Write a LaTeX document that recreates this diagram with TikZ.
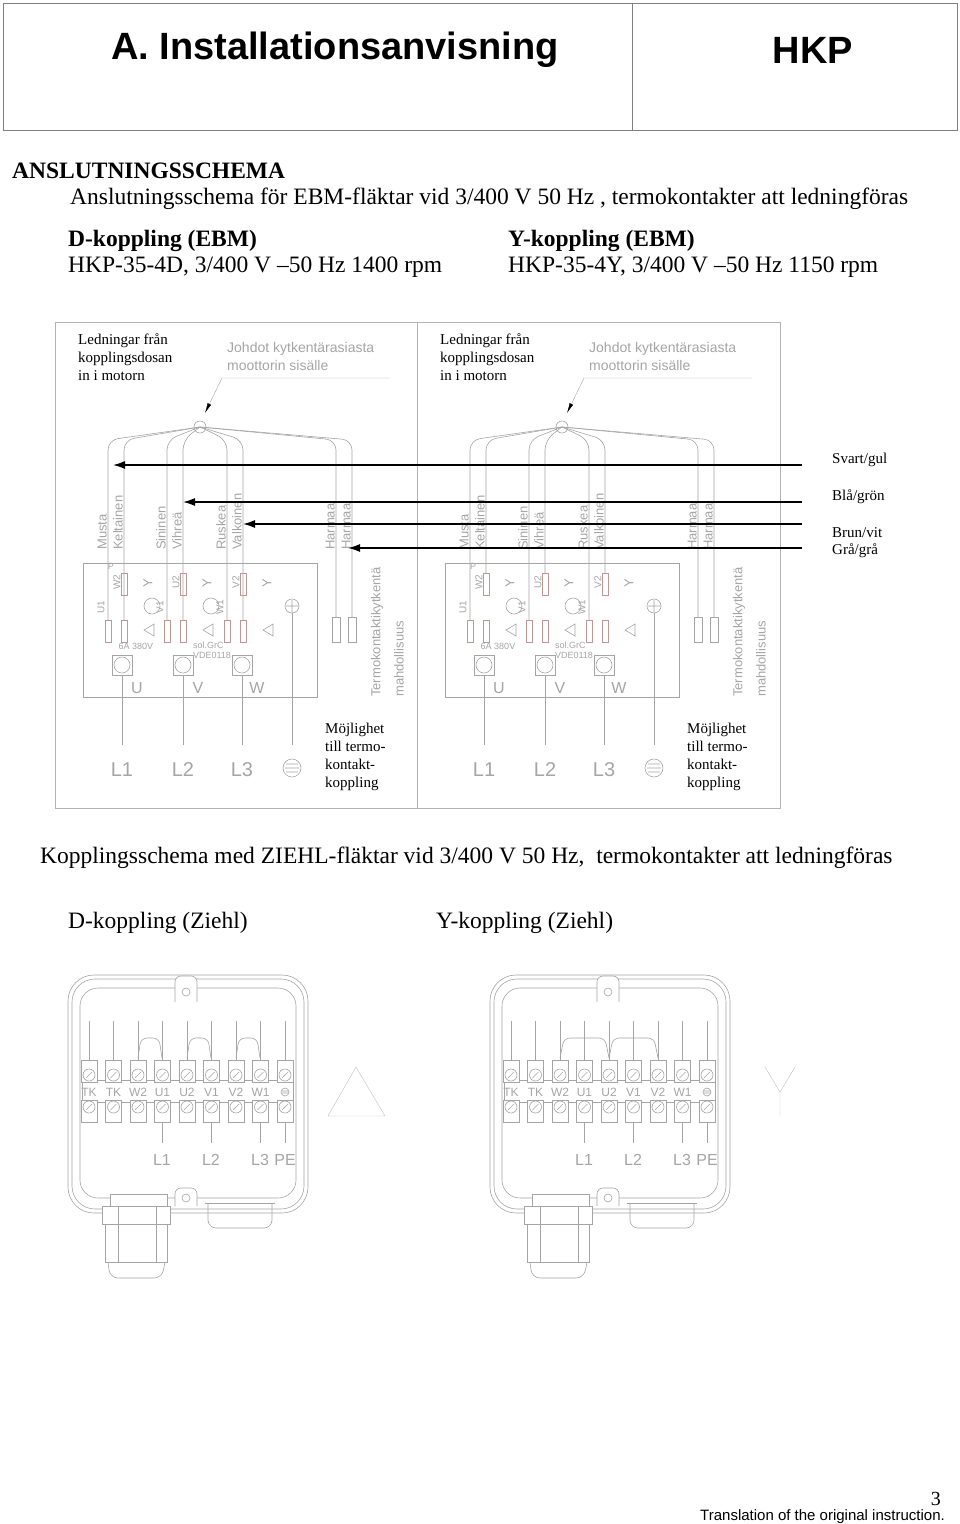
\documentclass[tikz,border=0pt]{standalone}
\usepackage{fontspec}
\setmainfont{Liberation Serif}
\setsansfont{Liberation Sans}
\usetikzlibrary{arrows.meta}
\definecolor{cad}{RGB}{165,165,165}
\definecolor{term}{RGB}{195,150,150}
\tikzset{
  wire/.style={draw=cad,line width=0.6pt},
  cadtext/.style={text=cad,font=\sffamily\fontsize{13}{13}\selectfont,inner sep=0pt},
  cadbig/.style={text=cad,font=\sffamily\fontsize{20}{20}\selectfont,inner sep=0pt},
  note/.style={font=\fontsize{15}{18}\selectfont,align=left,inner sep=0pt},
  body/.style={font=\fontsize{23.5}{26}\selectfont,anchor=base west,inner sep=0pt},
  bodybf/.style={body,font=\bfseries\fontsize{23.5}{26}\selectfont},
  lead/.style={-{Latex[length=12pt,width=8pt]},line width=1.5pt},
}
\begin{document}
\begin{tikzpicture}[x=1pt,y=-1pt]
\useasboundingbox (0,0) rectangle (960,1524);
% header
\draw[gray] (3,3) rectangle (957,130);
\draw[gray] (632,3) -- (632,130);
\node[font=\sffamily\bfseries\fontsize{38}{40}\selectfont] (title) at (335,50) {A. Installationsanvisning};
\node[font=\sffamily\bfseries\fontsize{38}{40}\selectfont] (hkp) at (813,50) {HKP};
%
\node[bodybf] (ansl) at (12,178) {ANSLUTNINGSSCHEMA};
\node[body] (ebm) at (70,204) {Anslutningsschema för EBM-fläktar vid 3/400 V 50 Hz , termokontakter att ledningföras};
\node[bodybf] (dk) at (68,246) {D-koppling (EBM)};
\node[body] (dkt) at (68,272) {HKP-35-4D, 3/400 V --50 Hz 1400 rpm};
\node[bodybf] (yk) at (508,246) {Y-koppling (EBM)};
\node[body] (ykt) at (508,272) {HKP-35-4Y, 3/400 V --50 Hz 1150 rpm};
%===========================
\draw[gray!60] (55,322) rectangle (780,808);
\draw[gray!60] (417,322) -- (417,808);
\foreach \sx/\py in {0/0,362/1}{
\begin{scope}[shift={(\sx,0)}]
\node[note,anchor=north west] (led) at (78,333) {Ledningar från\\kopplingsdosan\\in i motorn};
\node[cadtext,anchor=west,font=\sffamily\fontsize{14}{18}\selectfont,align=left] (joh) at (227,356) {Johdot kytkentärasiasta\\moottorin sisälle};
\coordinate (hub) at (200,427);
\draw[wire] (hub) circle (6);
\draw[cad,-{Latex[black,length=10pt,width=4pt]}] (390,378) -- (222,378) -- (205,413);
% wires
\foreach \x/\n/\yd/\yy in {108/Musta/620/620,124/Keltainen/620/573,167/Sininen/620/620,183/Vihreä/620/573,
    227/Ruskea/620/620,243/Valkoinen/620/573,336/Harmaa/617/617,352/Harmaa/617/617}{
  \pgfmathsetmacro{\ye}{\py==0 ? \yd : \yy}
  \draw[wire,rounded corners=10] (hub) -- (\x,440) -- (\x,\ye);
  \node[cadtext,rotate=90,anchor=south west] at (\x-1,550) {\n};
}
% terminal board
\draw[wire] (83,563) rectangle (317,697);
\foreach \x in {108,124,167,183,227,243}
  \draw[term] (\x-3,620) rectangle (\x+3,642);
\foreach \x in {336,352}
  \draw[wire] (\x-4,617) rectangle (\x+4,642);
\foreach \x/\a/\b/\c in {124/W2/U1/0,183/U2/V1/1,243/V2/W1/2}{
  \draw[term] (\x-3,573) rectangle (\x+3,595);
  \node[cadtext,font=\sffamily\fontsize{10}{10}\selectfont,rotate=90] at (\x-7,582) {\a};
  \node[cadtext,font=\sffamily\fontsize{10}{10}\selectfont,rotate=90] at (\x-23,607) {\b};
  \node[cadtext,rotate=90] at (\x+24,583) {Y};
  \draw[wire] (\x+30,624) -- (\x+30,636) -- (\x+20,630) -- cycle;
}
\node[cadtext,font=\sffamily\fontsize{9}{9}\selectfont] at (111,566) {P};
\draw[wire] (152,606) circle (8) (211,606) circle (8);
\draw[wire] (292,606) circle (7) (286,606) -- (298,606) (292,600) -- (292,612);
\node[cadtext,font=\sffamily\fontsize{9}{9}\selectfont] at (136,646) {6A 380V};
\node[cadtext,font=\sffamily\fontsize{9}{10}\selectfont,align=left] at (212,650) {sol.GrC\\VDE0118};
\foreach \x/\p/\l in {122/U/L1,183/V/L2,242/W/L3}{
  \draw[wire] (\x-10,655) rectangle (\x+10,675);
  \draw[wire] (\x,665) circle (8);
  \draw[wire] (\x,675) -- (\x,745);
  \node[cadbig,font=\sffamily\fontsize{16}{16}\selectfont] at (\x+15,688) {\p};
  \node[cadbig] at (\x,770) {\l};
}
\draw[wire] (292,613) -- (292,745);
\draw[wire] (292,768) circle (9) (286,764) -- (298,764) (285,768) -- (299,768) (286,772) -- (298,772);
\node[cadtext,rotate=90,anchor=west] at (377,697) {Termokontaktikytkentä};
\node[cadtext,rotate=90,anchor=west] at (399,697) {mahdollisuus};
\node[note,anchor=north west] (moj) at (325,723) {Möjlighet\\till termo-\\kontakt-\\koppling};
\end{scope}}
% colour labels and arrows
\node[note,anchor=west] (sg) at (832,460) {Svart/gul};
\node[note,anchor=west] (bg) at (832,497) {Blå/grön};
\node[note,anchor=west] (bv) at (832,533) {Brun/vit};
\node[note,anchor=west] (gg) at (832,551) {Grå/grå};
\coordinate (sgs) at (802,465); \coordinate (sgt) at (113,465);
\coordinate (bgs) at (802,502); \coordinate (bgt) at (183,502);
\coordinate (bvs) at (802,524); \coordinate (bvt) at (243,524);
\coordinate (ggs) at (802,548); \coordinate (ggt) at (348,548);
\draw[lead] (sgs) -- (sgt);
\draw[lead] (bgs) -- (bgt);
\draw[lead] (bvs) -- (bvt);
\draw[lead] (ggs) -- (ggt);
%================================
\node[body] (zie) at (40,863) {Kopplingsschema med ZIEHL-fläktar vid 3/400 V 50 Hz,~ termokontakter att ledningföras};
\node[body] (zd) at (68,928) {D-koppling (Ziehl)};
\node[body] (zy) at (436,928) {Y-koppling (Ziehl)};
\foreach \sx/\py in {0/0,422/1}{
\begin{scope}[shift={(\sx,0)}]
\draw[wire,rounded corners=26] (68,975) rectangle (308,1213);
\draw[wire,rounded corners=23] (72,979) rectangle (304,1209);
\draw[wire,rounded corners=18] (80,988) rectangle (296,1198);
\draw[wire,fill=white,rounded corners=6] (175,1002) -- (175,976) -- (197,976) -- (197,1002);
\draw[wire] (186,992) circle (4);
\draw[wire,fill=white,rounded corners=6] (175,1206) -- (175,1188) -- (197,1188) -- (197,1206);
\draw[wire] (186,1198) circle (4);
\draw[wire] (82,1080) rectangle (293,1102);
\foreach \i/\t in {0/TK,1/TK,2/W2,3/U1,4/U2,5/V1,6/V2,7/W1,8/}{
  \pgfmathsetmacro{\xx}{89+24.5*\i}
  \draw[wire,fill=white] (\xx-8,1060) rectangle (\xx+8,1082) (\xx-8,1100) rectangle (\xx+8,1122);
  \draw[wire] (\xx,1075) circle (6) (\xx,1107) circle (6);
  \draw[wire] (\xx-3,1078) -- (\xx+3,1072) (\xx-3,1110) -- (\xx+3,1104);
  \draw[wire] (\xx,1021) -- (\xx,1060);
  \node[cadtext,font=\sffamily\fontsize{12}{12}\selectfont] at (\xx,1092) {\t};
}
\draw[wire] (285,1092) circle (4) (282,1091) -- (288,1091) (282,1093) -- (288,1093);
\ifnum\py=0
  \foreach \a/\b in {138/162,187/211,236/260}
    \draw[wire,rounded corners=6] (\a,1058) -- (\a+3,1038) -- (\b-3,1038) -- (\b,1058);
\else
  \foreach \a/\b in {138/187,187/236}
    \draw[wire,rounded corners=6] (\a,1058) -- (\a+4,1038) -- (\b-4,1038) -- (\b,1058);
\fi
\foreach \xx/\l in {162/L1,211/L2,260/L3}{
  \draw[wire] (\xx,1122) -- (\xx,1143);
  \node[cadtext,font=\sffamily\fontsize{16}{16}\selectfont] at (\xx,1160) {\l};
}
\draw[wire] (285,1122) -- (285,1143);
\node[cadtext,font=\sffamily\fontsize{16}{16}\selectfont] at (285,1160) {PE};
% glands
\draw[wire,fill=white] (110,1194) rectangle (167,1206);
\draw[wire,fill=white] (102,1206) rectangle (170,1224);
\draw[wire] (118,1206) -- (118,1224) (156,1206) -- (156,1224);
\draw[wire,fill=white] (105,1224) rectangle (167,1262);
\draw[wire] (118,1224) -- (118,1262) (156,1224) -- (156,1262);
\draw[wire,rounded corners=8] (108,1262) -- (110,1278) -- (162,1278) -- (165,1262);
\draw[wire] (205,1203) -- (275,1203);
\draw[wire,rounded corners=8] (208,1203) -- (208,1228) -- (272,1228) -- (272,1203);
\end{scope}}
\draw[cad!70] (328,1116) -- (385,1116) -- (356,1067) -- cycle;
\draw[cad!70] (765,1067) -- (780,1092) -- (795,1067) (780,1092) -- (780,1116);
% footer
\node[font=\fontsize{20}{20}\selectfont,anchor=base east,inner sep=0pt] (pg) at (941,1505) {3};
\node[font=\sffamily\fontsize{15}{15}\selectfont,anchor=base east,inner sep=0pt] (tr) at (945,1520) {Translation of the original instruction.};
\end{tikzpicture}
\end{document}
